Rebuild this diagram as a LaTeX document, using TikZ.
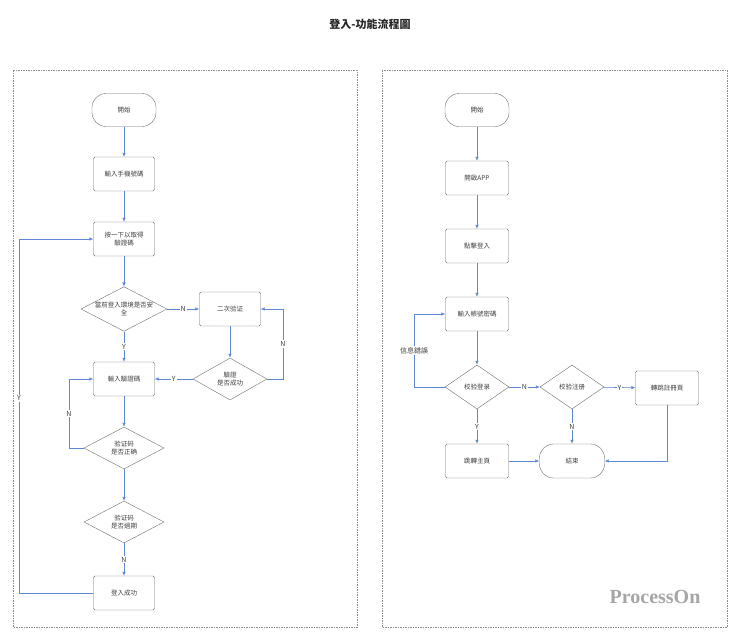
\documentclass[tikz,border=0pt]{standalone}
\usepackage{fontspec}
\setmainfont{Noto Sans CJK TC}
\newfontfamily\wmfont{Liberation Serif}
\usetikzlibrary{shapes.geometric,arrows.meta}
\definecolor{ln}{RGB}{95,135,215}
\definecolor{bd}{RGB}{110,110,110}
\tikzset{
 every node/.style={font=\fontsize{6.5}{8}\selectfont, text=black!75},
 box/.style={draw=bd, rounded corners=1.5pt, minimum width=61pt, minimum height=34pt, align=center, inner sep=1pt},
 term/.style={draw=bd, rounded corners=14pt, minimum width=64pt, minimum height=33pt},
 dia/.style={draw=bd, diamond, aspect=1.9, inner sep=0pt, align=center, minimum width=80pt, minimum height=42pt},
 ar/.style={draw=ln, line width=0.6pt, -{Latex[length=4pt,width=3.5pt]}},
 lb/.style={fill=white, inner sep=1pt, font=\fontsize{7}{8}\selectfont},
 panel/.style={draw=black!45, dashed, dash pattern=on 1.5pt off 1pt, line width=0.4pt}
}
\begin{document}
\begin{tikzpicture}[x=1pt,y=-1pt]
\useasboundingbox (0,0) rectangle (740,641);
\fill[white] (0,0) rectangle (740,641);
\node[font=\fontsize{11}{13}\selectfont\bfseries, text=black!85] (title) at (370,24) {登入-功能流程圖};
\draw[panel] (13,70) rectangle (357,627);
\draw[panel] (382,70) rectangle (727,627);
% left
\node[term] (s1) at (124,110) {開始};
\node[box] (a1) at (124,174) {輸入手機號碼};
\node[box] (a2) at (124,239) {按一下以取得\\驗證碼};
\node[dia, minimum width=86pt] (d1) at (124,309) {當前登入環境是否安\\全};
\node[box] (a3) at (230,309) {二次验证};
\node[dia, minimum width=74pt] (d2) at (230,379) {驗證\\是否成功};
\node[box] (a4) at (124,379) {輸入驗證碼};
\node[dia] (d3) at (124,448) {验证码\\是否正确};
\node[dia] (d4) at (124,522) {验证码\\是否過期};
\node[box] (a5) at (124,593) {登入成功};
\draw[ar] (s1) -- (a1);
\draw[ar] (a1) -- (a2);
\draw[ar] (a2) -- (d1);
\draw[ar] (d1) -- node[lb]{N} (a3);
\draw[ar] (a3) -- (d2);
\draw[ar] (d2.east) -- (283,379) -- node[lb]{N} (283,309) -- (a3.east);
\draw[ar] (d2) -- node[lb]{Y} (a4);
\draw[ar] (d1) -- node[lb]{Y} (a4);
\draw[ar] (a4) -- (d3);
\draw[ar] (d3.west) -- (69,448) -- node[lb]{N} (69,379) -- (a4.west);
\draw[ar] (d3) -- (d4);
\draw[ar] (d4) -- node[lb]{N} (a5);
\draw[ar] (a5.west) -- (19,593) -- node[lb, pos=0.55]{Y} (19,239) -- (a2.west);
% right
\node[term] (s2) at (477,110) {開始};
\node[box, minimum width=63pt] (b1) at (477,178) {開啟APP};
\node[box, minimum width=63pt] (b2) at (477,246) {點擊登入};
\node[box, minimum width=63pt] (b3) at (477,314) {輸入帳號密碼};
\node[dia, minimum width=64pt, minimum height=44pt, aspect=1.45] (e1) at (477,387) {校验登录};
\node[dia, minimum width=64pt, minimum height=44pt, aspect=1.45] (e2) at (572,387) {校验注册};
\node[box, minimum width=63pt] (b4) at (667,388) {轉跳註冊頁};
\node[box, minimum width=63pt] (b5) at (477,461) {跳轉主頁};
\node[term, minimum width=65pt, minimum height=34pt] (end) at (572,461) {結束};
\draw[ar] (s2) -- (b1);
\draw[ar] (b1) -- (b2);
\draw[ar] (b2) -- (b3);
\draw[ar] (b3) -- (e1);
\draw[ar] (e1.west) -- (414,387) -- node[lb]{信息錯誤} (414,314) -- (b3.west);
\draw[ar] (e1) -- node[lb]{N} (e2);
\draw[ar] (e2) -- node[lb]{Y} (b4);
\draw[ar] (e2) -- node[lb]{N} (end);
\draw[ar] (e1) -- node[lb]{Y} (b5);
\draw[ar] (b5) -- (end);
\draw[ar] (b4.south) -- (667,461) -- (end.east);
\node[font=\wmfont\fontsize{20}{22}\selectfont\bfseries, text=black!35] (wm) at (655,597) {ProcessOn};
\end{tikzpicture}
\end{document}
